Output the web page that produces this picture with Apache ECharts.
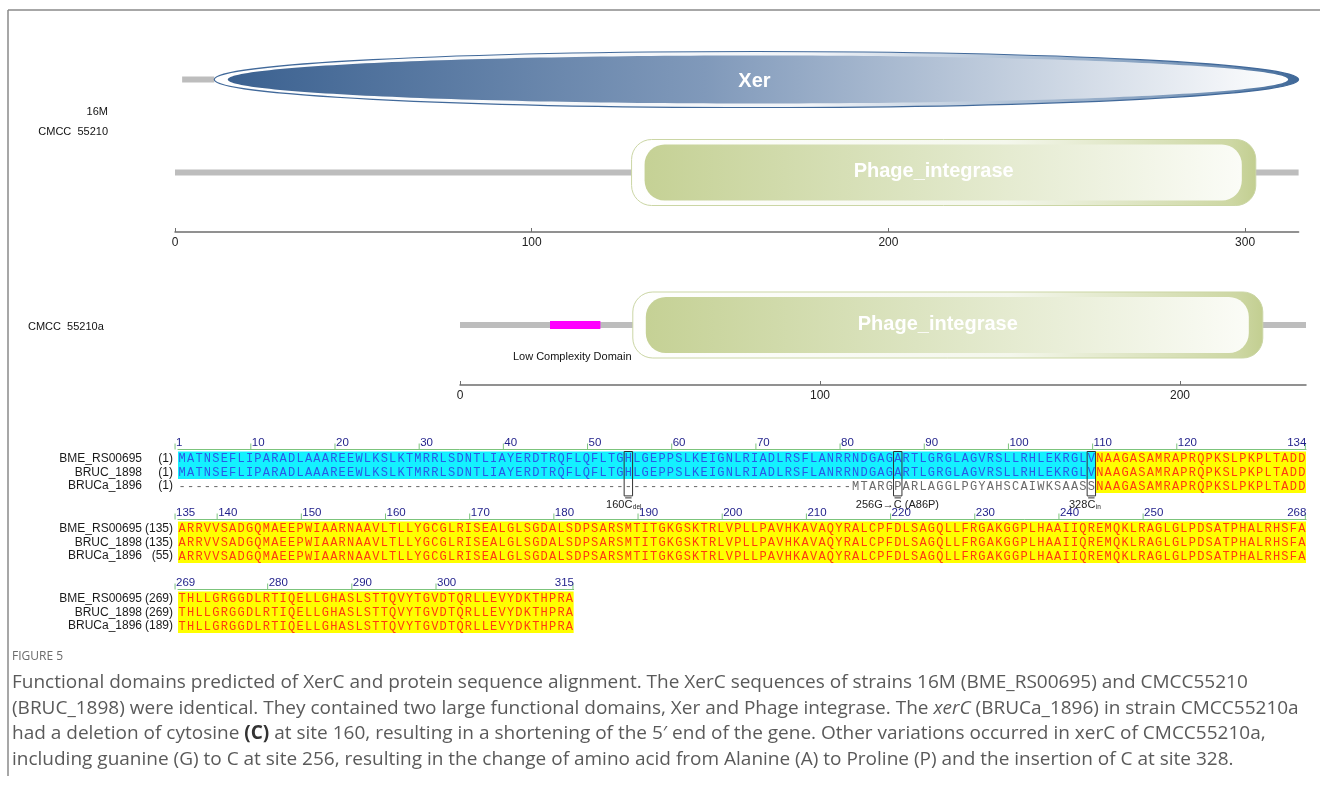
<!DOCTYPE html>
<html>
<head>
<meta charset="utf-8">
<script src="https://cdn.jsdelivr.net/npm/echarts@6/dist/echarts.min.js"></script>
<style>
html,body{margin:0;padding:0;background:#fff;}
#c{width:1320px;height:789px;}
</style>
</head>
<body>
<div id="c"></div>
<script>
// ---------- domain architecture (SMART-style) ----------
const fullLength = 315;            // XerC of 16M / CMCC 55210
const variantLength = 235;         // XerC of CMCC 55210a
const fullStrainLabels = ['16M', 'CMCC  55210'];
const variantStrainLabel = 'CMCC  55210a';
const fullRows = ['Xer', 'Phage_integrase'];
const fullBackbone = [[2, 11, 0], [0, 315, 1]];          // [from, to, row]
const fullDomains = [
  { name: 'Xer', from: 11, to: 315, row: 0, shape: 'ellipse' },
  { name: 'Phage_integrase', from: 128, to: 303, row: 1, shape: 'pill' }
];
const variantRows = ['CMCC 55210a'];
const variantBackbone = [[0, 235, 0]];
const variantDomains = [
  { name: 'Low Complexity Domain', from: 25, to: 39, row: 0, shape: 'lcd' },
  { name: 'Phage_integrase', from: 48, to: 223, row: 0, shape: 'pill' }
];
const fullAxisTicks = [0, 100, 200, 300];
const variantAxisTicks = [0, 100, 200];

// ---------- protein sequence alignment ----------
const seqNames = ['BME_RS00695', 'BRUC_1898', 'BRUCa_1896'];
const seqBME =
  'MATNSEFLIPARADLAAAREEWLKSLKTMRRLSDNTLIAYERDTRQFLQFLTGHLGEPPSLKEIGNLRIADLRSFLANRRNDGAGARTLGRGLAGVRSLLRHLEKRGLVNAAGASAMRAPRQPKSLPKPLTADD' +
  'ARRVVSADGQMAEEPWIAARNAAVLTLLYGCGLRISEALGLSGDALSDPSARSMTITGKGSKTRLVPLLPAVHKAVAQYRALCPFDLSAGQLLFRGAKGGPLHAAIIQREMQKLRAGLGLPDSATPHALRHSFA' +
  'THLLGRGGDLRTIQELLGHASLSTTQVYTGVDTQRLLEVYDKTHPRA';
const seqBRUC =
  'MATNSEFLIPARADLAAAREEWLKSLKTMRRLSDNTLIAYERDTRQFLQFLTGHLGEPPSLKEIGNLRIADLRSFLANRRNDGAGARTLGRGLAGVRSLLRHLEKRGLVNAAGASAMRAPRQPKSLPKPLTADD' +
  'ARRVVSADGQMAEEPWIAARNAAVLTLLYGCGLRISEALGLSGDALSDPSARSMTITGKGSKTRLVPLLPAVHKAVAQYRALCPFDLSAGQLLFRGAKGGPLHAAIIQREMQKLRAGLGLPDSATPHALRHSFA' +
  'THLLGRGGDLRTIQELLGHASLSTTQVYTGVDTQRLLEVYDKTHPRA';
const seqBRUCa =
  '--------------------------------------------------------------------------------' +
  'MTARGPARLAGGLPGYAHSCAIWKSAASS' + 'NAAGASAMRAPRQPKSLPKPLTADD' +
  'ARRVVSADGQMAEEPWIAARNAAVLTLLYGCGLRISEALGLSGDALSDPSARSMTITGKGSKTRLVPLLPAVHKAVAQYRALCPFDLSAGQLLFRGAKGGPLHAAIIQREMQKLRAGLGLPDSATPHALRHSFA' +
  'THLLGRGGDLRTIQELLGHASLSTTQVYTGVDTQRLLEVYDKTHPRA';
const alignBlocks = [[1, 134], [135, 268], [269, 315]];
const rulerTicks = [
  [1, 10, 20, 30, 40, 50, 60, 70, 80, 90, 100, 110, 120, 134],
  [135, 140, 150, 160, 170, 180, 190, 200, 210, 220, 230, 240, 250, 268],
  [269, 280, 290, 300, 315]
];
// shaded column ranges: [from, to, firstRow, lastRow, kind]
const shadeRanges = [
  [1, 109, 0, 1, 'block'],
  [110, 315, 0, 2, 'identical']
];
// marked variant sites: column, text before the mark, marked base, text after, subscript
const variantSites = [
  { col: 54, before: '160', mark: 'C', after: '', sub: 'del' },
  { col: 86, before: '256G\u2192', mark: 'C', after: ' (A86P)', sub: '' },
  { col: 109, before: '328', mark: 'C', after: '', sub: 'in' }
];

const seqs = [seqBME, seqBRUC, seqBRUCa];

// ---------- helpers ----------
const CELL = 8.418;
const SANS = '"Liberation Sans", Arial, Helvetica, sans-serif';
const MONO = '"Liberation Mono", "Courier New", monospace';
const shadeColors = { block: '#14f1ff', identical: '#ffff00' };
const textColors = { block: '#2a5ae6', identical: '#ff3a10', none: '#6a6a6a' };

function lg(stops) {
  return new echarts.graphic.LinearGradient(0, 0, 1, 0,
    stops.map(s => ({ offset: s[0], color: s[1] })));
}
function shadeOf(col, row) {
  for (const r of shadeRanges) {
    if (col >= r[0] && col <= r[1] && row >= r[2] && row <= r[3]) return r[4];
  }
  return 'none';
}
// first residue number of each row in each block (gaps not counted)
function blockStarts(b) {
  return seqs.map(s => {
    const before = s.slice(0, alignBlocks[b][0] - 1).replace(/-/g, '').length;
    return before + 1;
  });
}

// ---------- render functions ----------
function renderBackbone(params, api) {
  const s = api.coord([api.value(0), api.value(2)]);
  const e = api.coord([api.value(1), api.value(2)]);
  return { type: 'rect', shape: { x: s[0], y: s[1] - 3, width: e[0] - s[0], height: 6 },
    style: { fill: '#bdbdbd' } };
}

function makeDomainRenderer(list) {
  return function (params, api) {
    const d = list[params.dataIndex];
    const s = api.coord([api.value(0), api.value(2)]);
    const e = api.coord([api.value(1), api.value(2)]);
    const x0 = s[0], x1 = e[0], cy = s[1], w = x1 - x0;
    if (d.shape === 'ellipse') {
      const cx = (x0 + x1) / 2, rx = w / 2;
      return { type: 'group', children: [
        { type: 'ellipse', shape: { cx: cx, cy: cy, rx: rx, ry: 28 },
          style: { fill: lg([[0, '#ffffff'], [0.55, '#f1f4f8'], [0.93, '#6f8fb4'], [1, '#3e6797']]),
                   stroke: '#41699a', lineWidth: 1.2 } },
        { type: 'ellipse', shape: { cx: cx + 1.5, cy: cy, rx: rx - 12, ry: 24 },
          style: { fill: lg([[0, '#3b6190'], [0.45, '#8099ba'], [1, '#ffffff']]) } },
        { type: 'text', style: { text: d.name, x: cx - 2, y: cy + 2, align: 'center', verticalAlign: 'middle',
          fill: '#ffffff', font: 'bold 20px ' + SANS } }
      ] };
    }
    if (d.shape === 'pill') {
      const H = 66;
      return { type: 'group', children: [
        { type: 'rect', shape: { x: x0, y: cy - H / 2, width: w, height: H, r: 20 },
          style: { fill: lg([[0, '#ffffff'], [0.6, '#f4f7ec'], [0.96, '#cdd7a3'], [1, '#c2ce90']]),
                   stroke: '#cbd6a5', lineWidth: 1 } },
        { type: 'rect', shape: { x: x0 + 13, y: cy - H / 2 + 5, width: w - 27, height: H - 10, r: 20 },
          style: { fill: lg([[0, '#c5d195'], [0.45, '#dce4c1'], [1, '#fbfcf7']]) } },
        { type: 'text', style: { text: d.name, x: (x0 + x1) / 2 - 10, y: cy - 1, align: 'center', verticalAlign: 'middle',
          fill: '#ffffff', font: 'bold 20px ' + SANS } }
      ] };
    }
    // low complexity segment
    return { type: 'group', children: [
      { type: 'rect', shape: { x: x0, y: cy - 4, width: w, height: 8 }, style: { fill: '#ff00ff' } },
      { type: 'text', style: { text: d.name, x: (x0 + x1) / 2 - 3, y: cy + 32, align: 'center', verticalAlign: 'middle',
        fill: '#111', font: '11px ' + SANS } }
    ] };
  };
}

function makeShadeRenderer(b) {
  const [bs, be] = alignBlocks[b];
  return function (params, api) {
    const from = Math.max(api.value(0), bs), to = Math.min(api.value(1), be);
    if (from > to) return null;
    const band = api.size([0, 1])[1];
    const a = api.coord([from - 0.5, api.value(2)]);
    const z = api.coord([to + 0.5, api.value(3)]);
    const kind = shadeRanges[params.dataIndex][4];
    return { type: 'rect', shape: { x: a[0], y: a[1] - band / 2, width: z[0] - a[0], height: z[1] - a[1] + band },
      style: { fill: shadeColors[kind] } };
  };
}

function renderResidue(params, api) {
  const col = api.value(0), row = api.value(1);
  const p = api.coord([col, row]);
  const ch = seqs[row][col - 1];
  return { type: 'text', style: { text: ch, x: p[0], y: p[1] + 0.5, align: 'center', verticalAlign: 'middle',
    fill: textColors[shadeOf(col, row)], font: '12px ' + MONO } };
}

function makeRulerRenderer(b) {
  const ticks = rulerTicks[b];
  return function (params, api) {
    const v = api.value(0);
    const last = params.dataIndex === ticks.length - 1;
    const base = api.coord([v, 0]);
    const band = api.size([0, 1])[1];
    const yLine = base[1] - band / 2 - 2;
    const tx = last ? api.coord([v + 0.42, 0])[0] : api.coord([v - 0.85, 0])[0];
    return { type: 'group', children: [
      { type: 'line', shape: { x1: tx, y1: yLine, x2: tx, y2: yLine - 6 }, style: { stroke: '#7cc47c', lineWidth: 1 } },
      { type: 'text', style: { text: String(v), x: tx + 1, y: yLine - 1,
        align: last ? 'right' : 'left', verticalAlign: 'bottom', fill: '#1f1f8a', font: '11.5px ' + SANS } }
    ] };
  };
}

function renderSite(params, api) {
  const m = variantSites[params.dataIndex];
  const band = api.size([0, 1])[1];
  const a = api.coord([m.col - 0.5, 0]);
  const z = api.coord([m.col + 0.5, 2]);
  const top = a[1] - band / 2, bottom = z[1] + band / 2 + 3;
  const xc = (a[0] + z[0]) / 2;
  const ty = bottom + 9;
  const children = [
    { type: 'rect', shape: { x: a[0], y: top, width: z[0] - a[0], height: bottom - top },
      style: { fill: 'none', stroke: '#333', lineWidth: 1 } },
    { type: 'line', shape: { x1: a[0] + 1, y1: bottom + 2, x2: z[0] - 1, y2: bottom + 2 }, style: { stroke: '#333', lineWidth: 1 } },
    { type: 'text', style: { text: m.before, x: xc - 4, y: ty, align: 'right', verticalAlign: 'middle', fill: '#222', font: '11px ' + SANS } },
    { type: 'text', style: { text: m.mark, x: xc, y: ty, align: 'center', verticalAlign: 'middle', fill: '#222', font: '11px ' + SANS } }
  ];
  if (m.after) children.push({ type: 'text', style: { text: m.after, x: xc + 4, y: ty, align: 'left', verticalAlign: 'middle', fill: '#222', font: '11px ' + SANS } });
  if (m.sub) children.push({ type: 'text', style: { text: m.sub, x: xc + 4.5, y: ty + 2, align: 'left', verticalAlign: 'middle', fill: '#222', font: '6.5px ' + SANS } });
  return { type: 'group', children: children };
}

// ---------- layout ----------
const grids = [
  { left: 175, top: 33, width: fullLength * 3.567, height: 186 },
  { left: 460, top: 292, width: variantLength * 3.6, height: 66 }
];
const blockTops = [451.5, 521.5, 591.5];
alignBlocks.forEach((bl, i) => {
  grids.push({ left: 178, top: blockTops[i], width: (bl[1] - bl[0] + 1) * CELL, height: 41.4 });
});

const domainAxis = (max, ticks, offset, gi) => ({
  type: 'value', gridIndex: gi, min: 0, max: max, position: 'bottom', offset: offset,
  axisLine: { show: true, lineStyle: { color: '#6e6e6e', width: 1.5 } },
  axisTick: { show: true, inside: true, length: 4, customValues: ticks, lineStyle: { color: '#6e6e6e' } },
  axisLabel: { show: true, customValues: ticks, margin: 5, color: '#222', fontSize: 12, fontFamily: SANS },
  splitLine: { show: false }
});

const xAxes = [
  domainAxis(fullLength, fullAxisTicks, 13, 0),
  domainAxis(variantLength, variantAxisTicks, 27, 1)
];
const yAxes = [
  { type: 'category', gridIndex: 0, data: fullRows, inverse: true, show: false },
  { type: 'category', gridIndex: 1, data: variantRows, inverse: true, show: false }
];
alignBlocks.forEach((bl, i) => {
  xAxes.push({ type: 'value', gridIndex: i + 2, min: bl[0] - 0.5, max: bl[1] + 0.5, position: 'top', offset: 2,
    axisLine: { show: true, lineStyle: { color: '#7cc47c', width: 1 } },
    axisTick: { show: false }, axisLabel: { show: false }, splitLine: { show: false } });
  const starts = blockStarts(i);
  yAxes.push({ type: 'category', gridIndex: i + 2, data: seqNames, inverse: true,
    axisLine: { show: false }, axisTick: { show: false },
    axisLabel: { interval: 0, margin: 5, color: '#1a1a1a', fontFamily: SANS, fontSize: 12,
      formatter: (v, idx) => '{n|' + v + '}{p|(' + starts[idx] + ')}',
      rich: { n: { fontSize: 12, fontFamily: SANS, color: '#1a1a1a' },
              p: { width: 31, align: 'right', fontSize: 12, fontFamily: SANS, color: '#1a1a1a' } } } });
});

const series = [
  { type: 'custom', xAxisIndex: 0, yAxisIndex: 0, renderItem: renderBackbone, data: fullBackbone, silent: true, z: 1 },
  { type: 'custom', xAxisIndex: 0, yAxisIndex: 0, renderItem: makeDomainRenderer(fullDomains),
    data: fullDomains.map(d => ({ name: d.name, value: [d.from, d.to, d.row] })), silent: true, z: 2 },
  { type: 'custom', xAxisIndex: 1, yAxisIndex: 1, renderItem: renderBackbone, data: variantBackbone, silent: true, z: 1 },
  { type: 'custom', xAxisIndex: 1, yAxisIndex: 1, renderItem: makeDomainRenderer(variantDomains),
    data: variantDomains.map(d => ({ name: d.name, value: [d.from, d.to, d.row] })), silent: true, z: 2 }
];
alignBlocks.forEach((bl, i) => {
  const ax = i + 2;
  series.push({ type: 'custom', xAxisIndex: ax, yAxisIndex: ax, renderItem: makeShadeRenderer(i),
    data: shadeRanges.map(r => [r[0], r[1], r[2], r[3]]), silent: true, z: 1 });
  const cells = [];
  for (let c = bl[0]; c <= bl[1]; c++) for (let r = 0; r < seqs.length; r++) cells.push([c, r]);
  series.push({ type: 'custom', xAxisIndex: ax, yAxisIndex: ax, renderItem: renderResidue, data: cells, silent: true, z: 2 });
  series.push({ type: 'custom', xAxisIndex: ax, yAxisIndex: ax, renderItem: makeRulerRenderer(i),
    data: rulerTicks[i].map(t => [t]), silent: true, z: 3 });
});
series.push({ type: 'custom', xAxisIndex: 2, yAxisIndex: 2, renderItem: renderSite,
  data: variantSites.map(m => [m.col]), silent: true, z: 4 });

// ---------- figure frame, strain labels and caption ----------
const CAP = '"Open Sans", "Noto Sans", sans-serif';
const CAP_SIZE = 19;
const captionLines = [
  'Functional domains predicted of XerC and protein sequence alignment. The XerC sequences of strains 16M (BME_RS00695) and CMCC55210',
  '(BRUC_1898) were identical. They contained two large functional domains, Xer and Phage integrase. The {i|xerC} (BRUCa_1896) in strain CMCC55210a',
  'had a deletion of cytosine {b|(C)} at site 160, resulting in a shortening of the 5\u2032 end of the gene. Other variations occurred in xerC of CMCC55210a,',
  'including guanine (G) to C at site 256, resulting in the change of amino acid from Alanine (A) to Proline (P) and the insertion of C at site 328.'
];
const graphics = [
  { type: 'line', shape: { x1: 8, y1: 10, x2: 1320, y2: 10 }, style: { stroke: '#8a8a8a', lineWidth: 1.5 } },
  { type: 'line', shape: { x1: 8, y1: 10, x2: 8, y2: 776 }, style: { stroke: '#8a8a8a', lineWidth: 1.5 } },
  { type: 'text', x: 108, y: 112, style: { text: fullStrainLabels[0], align: 'right', verticalAlign: 'middle', fill: '#111', font: '11px ' + SANS } },
  { type: 'text', x: 108, y: 132, style: { text: fullStrainLabels[1], align: 'right', verticalAlign: 'middle', fill: '#111', font: '11px ' + SANS } },
  { type: 'text', x: 28, y: 327, style: { text: variantStrainLabel, align: 'left', verticalAlign: 'middle', fill: '#111', font: '11px ' + SANS } },
  { type: 'text', x: 12, y: 657, style: { text: 'FIGURE 5', align: 'left', verticalAlign: 'middle', fill: '#6b6b6b', font: '12px ' + CAP } }
];
captionLines.forEach((t, i) => {
  graphics.push({ type: 'text', x: 12, y: 683 + i * 25.4, style: {
    text: t, align: 'left', verticalAlign: 'middle', fill: '#5a5a5a', font: CAP_SIZE + 'px ' + CAP,
    rich: { i: { fontStyle: 'italic', fontSize: CAP_SIZE, fontFamily: CAP, fill: '#5a5a5a' },
            b: { fontWeight: 'bold', fontSize: CAP_SIZE, fontFamily: CAP, fill: '#333' } } } });
});

const chart = echarts.init(document.getElementById('c'), null, { renderer: 'canvas' });
chart.setOption({
  animation: false,
  backgroundColor: '#ffffff',
  grid: grids,
  xAxis: xAxes,
  yAxis: yAxes,
  series: series,
  graphic: { elements: graphics }
});
</script>
</body>
</html>
